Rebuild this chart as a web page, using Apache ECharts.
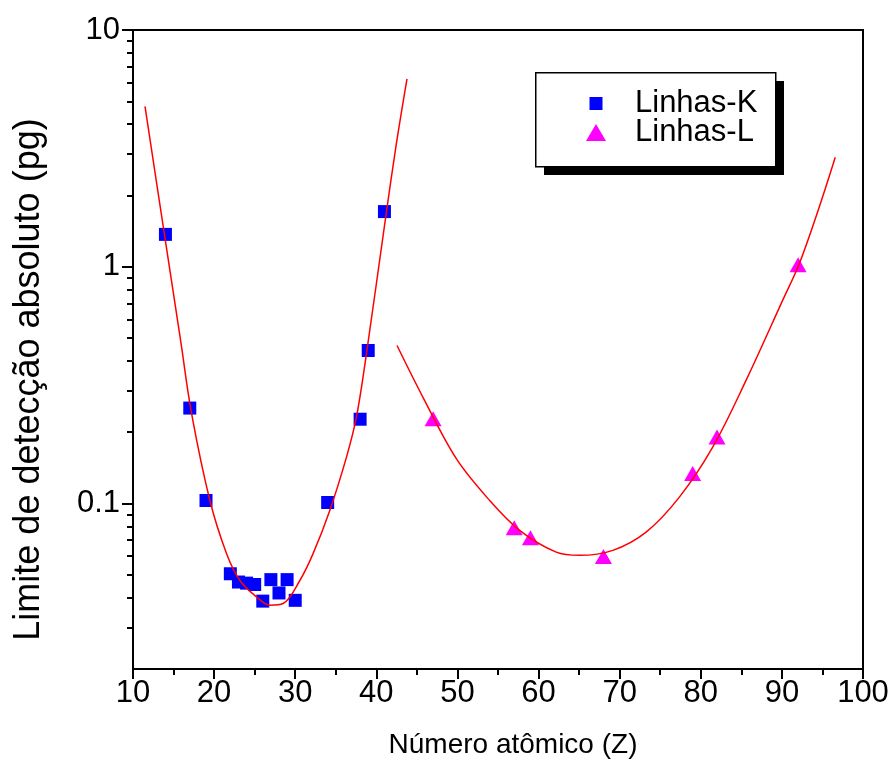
<!DOCTYPE html>
<html>
<head>
<meta charset="utf-8">
<script src="https://cdn.jsdelivr.net/npm/echarts@6/dist/echarts.min.js"></script>
<style>
html,body{margin:0;padding:0;background:#fff;}
#chart{width:896px;height:778px;}
</style>
</head>
<body>
<div id="chart"></div>
<script>
// ---- data ----
var kZ   = [14, 17, 19, 22, 23, 24, 25, 26, 27, 28, 29, 30, 34, 38, 39, 41];
var kVal = [1.37, 0.253, 0.103, 0.0505, 0.0466, 0.0461, 0.0455, 0.0387, 0.0477, 0.0419, 0.0477, 0.039, 0.101, 0.227, 0.443, 1.71];

var lZ   = [47, 57, 59, 68, 79, 82, 92];
var lVal = [0.228, 0.079, 0.0717, 0.0598, 0.134, 0.191, 1.02];

// fitted curves
var kFitZ   = [11.48, 13.86, 15.9, 17.23, 19.48, 21.54, 23.18, 25.23, 26.87, 28.5, 30.57, 32.2, 34.26, 36.32, 37.55, 38.78, 41.24, 42.47, 43.78];
var kFitVal = [4.76, 1.38, 0.48, 0.239, 0.103, 0.0614, 0.0473, 0.0403, 0.0372, 0.0378, 0.0473, 0.0614, 0.0935, 0.157, 0.232, 0.429, 1.70, 3.31, 6.22];

var lFitZ   = [42.55, 45.75, 49.86, 53.97, 57.66, 62.18, 65.05, 69.15, 73.26, 77.36, 81.47, 85.58, 90.09, 92.14, 94.61, 96.58];
var lFitVal = [0.465, 0.281, 0.1546, 0.103, 0.077, 0.0623, 0.0604, 0.0634, 0.0757, 0.1064, 0.173, 0.331, 0.721, 1.03, 1.79, 2.90];

var yMajorTicks = [0.1, 1, 10];
var yMinorTicks = [0.03, 0.04, 0.05, 0.06, 0.07, 0.08, 0.09, 0.2, 0.3, 0.4, 0.5, 0.6, 0.7, 0.8, 0.9, 2, 3, 4, 5, 6, 7, 8, 9];

var seriesNames = ['Linhas-K', 'Linhas-L'];
var xTitle = 'Número atômico (Z)';
var yTitle = 'Limite de detecção absoluto (pg)';

function pairs(xs, ys) { return xs.map(function (x, i) { return [x, ys[i]]; }); }

var FONT = '"Liberation Sans", Arial, sans-serif';
var chart = echarts.init(document.getElementById('chart'), null, {renderer: 'canvas'});

chart.setOption({
  animation: false,
  backgroundColor: '#ffffff',
  grid: {left: 133, right: 33, top: 30, bottom: 109, show: true, borderColor: '#000', borderWidth: 2, backgroundColor: 'transparent'},
  graphic: [
    {type: 'rect', left: 544, top: 81, z: 10, shape: {width: 240, height: 94}, style: {fill: '#000'}},
    {type: 'rect', left: 535, top: 72, z: 11, shape: {width: 240, height: 94}, style: {fill: '#fff', stroke: '#000', lineWidth: 1.5}}
  ],
  legend: {
    orient: 'vertical',
    left: 581, top: 83,
    itemWidth: 20, itemHeight: 17, itemGap: -2,
    z: 20,
    textStyle: {fontFamily: FONT, fontSize: 31, color: '#000', padding: [0, 0, 0, 24]},
    data: [
      {name: seriesNames[0], icon: 'path://M0,0 M20,17 M3.5,2 L16.5,2 L16.5,15 L3.5,15 Z'},
      {name: seriesNames[1], icon: 'path://M10,0 L20,17 L0,17 Z'}
    ]
  },
  xAxis: {
    type: 'value', min: 10, max: 100, interval: 10,
    name: xTitle, nameLocation: 'middle', nameGap: 62,
    nameTextStyle: {fontFamily: FONT, fontSize: 28, color: '#000', padding: [0, 0, 0, 30]},
    axisLine: {show: true, lineStyle: {color: '#000', width: 2}},
    axisTick: {show: true, inside: false, length: 10, lineStyle: {color: '#000', width: 2}},
    minorTick: {show: true, splitNumber: 2, length: 6, lineStyle: {color: '#000', width: 2}},
    axisLabel: {fontFamily: FONT, fontSize: 31, color: '#000', margin: 9},
    splitLine: {show: false}
  },
  yAxis: [
    {
      type: 'log', logBase: 10, min: 0.02, max: 10, position: 'left',
      name: yTitle, nameLocation: 'middle', nameGap: 86, nameRotate: 90,
      nameTextStyle: {fontFamily: FONT, fontSize: 36, color: '#000', padding: [0, 60, 0, 0]},
      axisLine: {show: true, lineStyle: {color: '#000', width: 2}},
      axisTick: {show: true, inside: false, length: 11, customValues: yMajorTicks, lineStyle: {color: '#000', width: 2}},
      axisLabel: {fontFamily: FONT, fontSize: 31, color: '#000', margin: 13, customValues: yMajorTicks,
        formatter: function (v) { return String(+v.toPrecision(3)); }},
      splitLine: {show: false}
    },
    {
      type: 'log', logBase: 10, min: 0.02, max: 10, position: 'left', offset: 0,
      axisLine: {show: false},
      axisTick: {show: true, inside: false, length: 6, customValues: yMinorTicks, lineStyle: {color: '#000', width: 2}},
      axisLabel: {show: false},
      splitLine: {show: false}
    }
  ],
  series: [
    {name: seriesNames[0], type: 'scatter', symbol: 'rect', symbolSize: 13,
     itemStyle: {color: '#0000ff', opacity: 1}, data: pairs(kZ, kVal), z: 3},
    {name: seriesNames[1], type: 'scatter', symbol: 'triangle', symbolSize: [17, 15],
     itemStyle: {color: '#ff00ff', opacity: 1}, data: pairs(lZ, lVal), z: 3},
    {name: 'fitK', type: 'line', smooth: 0.35, showSymbol: false, symbol: 'none',
     lineStyle: {color: '#ff0000', width: 1.5}, data: pairs(kFitZ, kFitVal), z: 4},
    {name: 'fitL', type: 'line', smooth: 0.35, showSymbol: false, symbol: 'none',
     lineStyle: {color: '#ff0000', width: 1.5}, data: pairs(lFitZ, lFitVal), z: 4}
  ]
});
</script>
</body>
</html>
